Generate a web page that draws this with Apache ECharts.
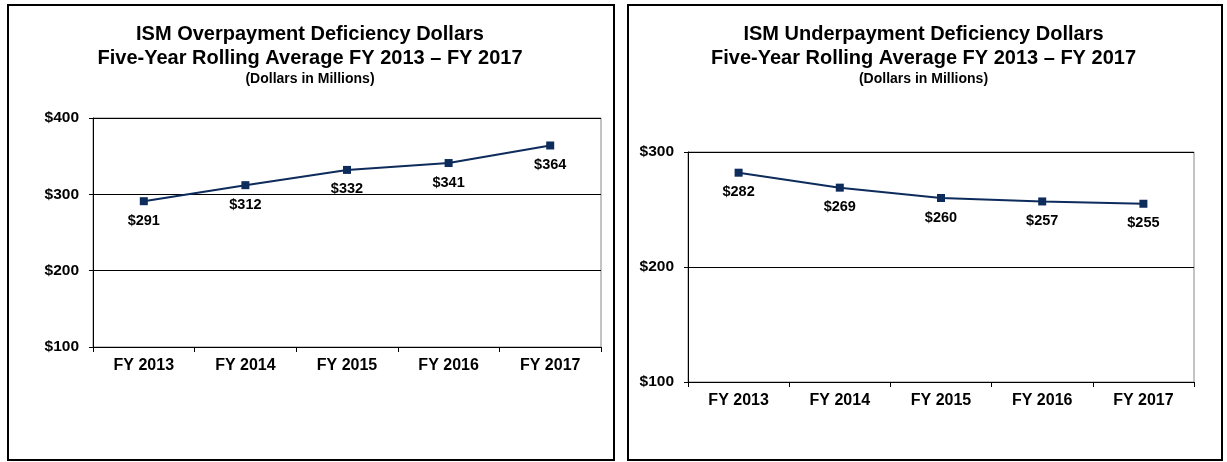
<!DOCTYPE html>
<html>
<head>
<meta charset="utf-8">
<script src="https://cdn.jsdelivr.net/npm/echarts@6/dist/echarts.min.js"></script>
<style>
  html, body { margin: 0; padding: 0; background: #fff; }
  #overChart { position: absolute; left: 0; top: 0; width: 620px; height: 462px; }
  #underChart { position: absolute; left: 620px; top: 0; width: 607px; height: 462px; }
</style>
</head>
<body>
<div id="overChart"></div>
<div id="underChart"></div>
<script>
var years = ["FY 2013", "FY 2014", "FY 2015", "FY 2016", "FY 2017"];
var overpayment = [291, 312, 332, 341, 364];
var underpayment = [282, 269, 260, 257, 255];

var font = 'Liberation Sans, Arial, sans-serif';
var navy = '#0d2b5b';

var overEchart = echarts.init(document.getElementById('overChart'));
var underEchart = echarts.init(document.getElementById('underChart'));

function panelOption(titleLine, values, box, grid, yMax){
    return {
        animation: false,
        textStyle: { fontFamily: font },
        title: {
            text: titleLine + '\nFive-Year Rolling Average FY 2013 \u2013 FY 2017',
            subtext: '(Dollars in Millions)',
            left: 'center',
            top: 22,
            padding: 0,
            itemGap: 1,
            textStyle: { fontSize: 20, fontWeight: 'bold', color: '#000', lineHeight: 24, fontFamily: font },
            subtextStyle: { fontSize: 14, fontWeight: 'bold', color: '#000', lineHeight: 16, fontFamily: font }
        },
        graphic: [{
            type: 'rect',
            shape: box,
            style: { fill: null, stroke: '#000', lineWidth: 2 },
            silent: true
        }],
        grid: {
            left: grid.left, right: grid.right, top: grid.top, bottom: grid.bottom,
            show: true, borderColor: '#888', borderWidth: 1
        },
        xAxis: {
            type: 'category',
            data: years,
            boundaryGap: true,
            axisLine: { lineStyle: { color: '#000', width: 1 } },
            axisTick: { show: true, length: 5, lineStyle: { color: '#000' } },
            axisLabel: { fontSize: 16, fontWeight: 'bold', color: '#000', margin: 11, fontFamily: font }
        },
        yAxis: {
            type: 'value',
            min: 100,
            max: yMax,
            interval: 100,
            axisLine: { show: true, lineStyle: { color: '#000', width: 1 } },
            axisTick: { show: true, length: 4, lineStyle: { color: '#000' } },
            axisLabel: {
                fontSize: 15.5, fontWeight: 'bold', color: '#000', margin: 14, fontFamily: font,
                formatter: function(v){ return '$' + v; }
            },
            splitLine: { show: true, lineStyle: { color: '#000', width: 1 } }
        },
        series: [{
            type: 'line',
            data: values,
            symbol: 'rect',
            symbolSize: 8,
            itemStyle: { color: navy },
            lineStyle: { color: navy, width: 2 },
            label: {
                show: true,
                position: 'bottom',
                distance: 8,
                fontSize: 14.5,
                fontWeight: 'bold',
                color: '#000',
                fontFamily: font,
                formatter: function(p){ return '$' + p.value; }
            }
        }]
    };
}

overEchart.setOption(panelOption(
    'ISM Overpayment Deficiency Dollars', overpayment,
    { x: 8, y: 5, width: 606, height: 455 },
    { left: 93, right: 19, top: 118, bottom: 115 },
    400
));

underEchart.setOption(panelOption(
    'ISM Underpayment Deficiency Dollars', underpayment,
    { x: 8, y: 5, width: 594, height: 455 },
    { left: 68, right: 33, top: 152, bottom: 80 },
    300
));
</script>
</body>
</html>
